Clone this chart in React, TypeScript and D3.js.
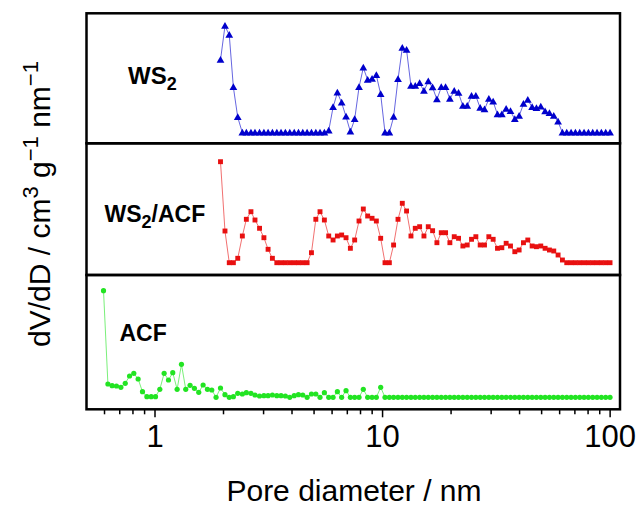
import React from 'react';
import * as d3 from 'd3';

// Pore diameters (nm) of the common grid
const diameters = [
  0.594, 0.621, 0.648, 0.677, 0.708, 0.740, 0.773, 0.807, 0.843, 0.881, 0.921, 0.962, 1.005, 1.050, 1.097,
  1.146, 1.197, 1.251, 1.307, 1.365, 1.426, 1.490, 1.557, 1.627, 1.700, 1.776, 1.855,
  1.94, 2.03, 2.12, 2.21, 2.31, 2.42, 2.52, 2.64, 2.75, 2.88, 3.01, 3.14, 3.28, 3.43, 3.58, 3.74, 3.91, 4.09,
  4.27, 4.46, 4.66, 4.87, 5.09, 5.31, 5.55, 5.80, 6.06, 6.33, 6.61, 6.91, 7.22, 7.54, 7.88, 8.23, 8.60, 8.99,
  9.39, 9.81, 10.25, 10.71, 11.18, 11.69, 12.21, 12.75, 13.33, 13.92, 14.55, 15.20, 15.88, 16.59, 17.33, 18.11,
  18.92, 19.76, 20.65, 21.57, 22.54, 23.55, 24.60, 25.70, 26.85, 28.05, 29.31, 30.62, 31.99, 33.43, 34.92, 36.49,
  38.12, 39.82, 41.61, 43.47, 45.42, 47.45, 49.57, 51.79, 54.11, 56.53, 59.06, 61.71, 64.47, 67.36, 70.37, 73.52,
  76.81, 80.25, 83.84, 87.60, 91.52, 95.62, 99.90,
];

// WS2 and WS2/ACF start at 1.94 nm
const ws2Diameters = diameters.filter((d) => d >= 1.9);

const ws2Values = [
  0.727, 1.067, 0.977, 0.454, 0.154,
  0, 0, 0, 0, 0, 0, 0, 0, 0, 0, 0, 0, 0, 0, 0, 0, 0, 0, 0, 0,
  0.02, 0.254, 0.40, 0.30, 0.16,
  0.01, 0.134, 0.454, 0.65, 0.527,
  0.537, 0.574, 0.384, 0, 0,
  0.157, 0.534, 0.847, 0.827, 0.467,
  0.467, 0.494, 0.417, 0.512, 0.452,
  0.332, 0.454, 0.454, 0.337, 0.417,
  0.397, 0.267, 0.267, 0.367, 0.367,
  0.247, 0.232, 0.337, 0.31, 0.182,
  0.182, 0.237, 0.214, 0.134, 0.167,
  0.287, 0.327, 0.254, 0.244, 0.26,
  0.212, 0.194, 0.167, 0.11, 0,
  0, 0, 0, 0, 0, 0, 0, 0, 0, 0, 0,
];

const ws2AcfValues = [
  1.01, 0.317, 0, 0, 0.044,
  0.267, 0.434, 0.51, 0.427, 0.344,
  0.25, 0.134, 0.044, 0, 0,
  0, 0, 0, 0, 0,
  0, 0.10, 0.434, 0.51, 0.427,
  0.267, 0.227, 0.267, 0.277, 0.25,
  0.144, 0.227, 0.417, 0.537, 0.467,
  0.444, 0.417, 0.244, 0, 0,
  0.177, 0.434, 0.594, 0.517, 0.267,
  0.344, 0.36, 0.267, 0.36, 0.32,
  0.20, 0.30, 0.30, 0.20, 0.26,
  0.244, 0.167, 0.177, 0.234, 0.26,
  0.177, 0.177, 0.26, 0.234, 0.144,
  0.15, 0.194, 0.167, 0.11, 0.127,
  0.20, 0.227, 0.167, 0.16, 0.167,
  0.144, 0.127, 0.117, 0.077, 0.027,
  0, 0, 0, 0, 0, 0, 0, 0, 0, 0, 0,
];

const acfValues = [
  1.066, 0.133, 0.116, 0.113, 0.10,
  0.14, 0.213, 0.24, 0.183, 0.056,
  0.006, 0.006, 0.006, 0.08, 0.24,
  0.173, 0.246, 0.08, 0.33, 0.08,
  0.12, 0.09, 0.05, 0.123, 0.08,
  0.073, 0, 0.093, 0.026, 0,
  0.006, 0.04, 0.033, 0.046, 0.04,
  0.023, 0.013, 0.016, 0.016, 0.023,
  0.016, 0.016, 0.013, 0, 0.016,
  0.026, 0.023, 0, 0.033, 0.033,
  0, 0.046, 0, 0, 0.056,
  0, 0.066, 0, 0, 0,
  0.08, 0, 0, 0, 0.10,
  0, 0, 0, 0, 0, 0, 0, 0, 0, 0,
  0, 0, 0, 0, 0, 0, 0, 0, 0, 0,
  0, 0, 0, 0, 0, 0, 0, 0, 0, 0,
  0, 0, 0, 0, 0, 0, 0, 0, 0, 0,
  0, 0, 0, 0, 0, 0, 0, 0, 0, 0,
  0, 0, 0,
];

const majorTicks = [1, 10, 100];
const majorTickLabels = ['1', '10', '100'];
const minorTicks = [0.6, 0.7, 0.8, 0.9, 2, 3, 4, 5, 6, 7, 8, 9, 20, 30, 40, 50, 60, 70, 80, 90];
const xAxisTitle = 'Pore diameter / nm';

const FONT = 'Arial, "Liberation Sans", sans-serif';

export default function App() {
  const left = 86.5;
  const right = 620;
  const x = d3.scaleLog().domain([0.5, 110.5]).range([left, right]);

  const panels = [
    { top: 13.3, bottom: 143.3, domain: [-0.106, 1.194], xs: ws2Diameters, ys: ws2Values, color: '#0000cc', marker: 'tri' },
    { top: 143.3, bottom: 275, domain: [-0.123, 1.194], xs: ws2Diameters, ys: ws2AcfValues, color: '#e81010', marker: 'sq' },
    { top: 275, bottom: 409.3, domain: [-0.12, 1.223], xs: diameters, ys: acfValues, color: '#22e422', marker: 'circ' },
  ];

  const triPath = d3.symbol(d3.symbolTriangle, 26)() as string;
  const sqPath = d3.symbol(d3.symbolSquare, 24)() as string;

  const axisY = panels[2].bottom;

  return (
    <svg width={638} height={517} style={{ position: 'absolute', left: 0, top: 0, background: '#fff' }} fontFamily={FONT}>
      <rect x={0} y={0} width={638} height={517} fill="#fff" />
      {panels.map((p, pi) => {
        const y = d3.scaleLinear().domain(p.domain).range([p.bottom, p.top]);
        const pts = p.xs.map((d, i) => [x(d), y(p.ys[i])] as [number, number]);
        const line = d3.line()(pts) as string;
        return (
          <g key={pi}>
            <path d={line} fill="none" stroke={p.color} strokeWidth={1} strokeOpacity={0.6} />
            {pts.map(([px, py], i) =>
              p.marker === 'tri' ? (
                <path key={i} d={triPath} transform={`translate(${px},${py + 0.5})`} fill={p.color} />
              ) : p.marker === 'sq' ? (
                <path key={i} d={sqPath} transform={`translate(${px},${py})`} fill={p.color} />
              ) : (
                <circle key={i} cx={px} cy={py} r={2.6} fill={p.color} />
              )
            )}
            <rect x={left} y={p.top} width={right - left} height={p.bottom - p.top} fill="none" stroke="#000" strokeWidth={2.5} />
          </g>
        );
      })}

      {/* x axis ticks */}
      {minorTicks.map((t) => (
        <line key={'m' + t} x1={x(t)} x2={x(t)} y1={axisY} y2={axisY + 5} stroke="#000" strokeWidth={1.5} />
      ))}
      {majorTicks.map((t, i) => (
        <g key={'M' + t}>
          <line x1={x(t)} x2={x(t)} y1={axisY} y2={axisY + 8} stroke="#000" strokeWidth={1.5} />
          <text x={x(t)} y={447} textAnchor="middle" fontSize={31} fill="#000">
            {majorTickLabels[i]}
          </text>
        </g>
      ))}

      <text x={354} y={501} textAnchor="middle" fontSize={30} fill="#000">
        {xAxisTitle}
      </text>

      <text transform="translate(50,204) rotate(-90)" textAnchor="middle" fontSize={30} fill="#000">
        dV/dD / cm<tspan dy={-12} fontSize={22}>3</tspan>
        <tspan dy={12}> g</tspan>
        <tspan dy={-12} fontSize={22}>−1</tspan>
        <tspan dy={12}> nm</tspan>
        <tspan dy={-12} fontSize={22}>−1</tspan>
      </text>

      <text x={128} y={84} fontSize={24} fontWeight="bold" fill="#000">
        WS<tspan dy={6} fontSize={18}>2</tspan>
      </text>
      <text x={104.5} y={221.5} fontSize={23} fontWeight="bold" fill="#000">
        WS<tspan dy={6} fontSize={18}>2</tspan>
        <tspan dy={-6}>/ACF</tspan>
      </text>
      <text x={119.5} y={340.5} fontSize={23} fontWeight="bold" fill="#000">
        ACF
      </text>
    </svg>
  );
}
